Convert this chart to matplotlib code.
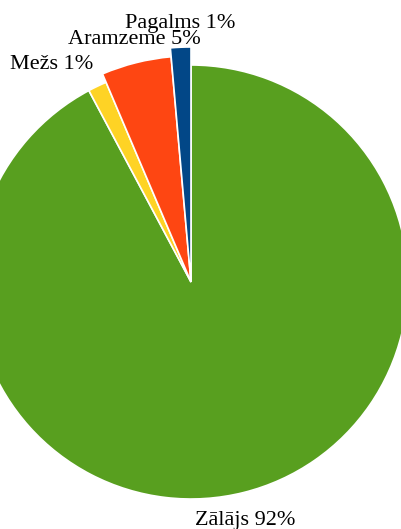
import matplotlib
matplotlib.use("Agg")
import matplotlib.pyplot as plt

categories = ["Zālājs", "Mežs", "Aramzeme", "Pagalms"]
values = [92.2, 1.4, 5.0, 1.4]
colors = ["#589f1f", "#fed325", "#fe4612", "#024787"]
radius_scale = [1.0, 1.0, 1.042, 1.083]

W, H = 402, 529
fig = plt.figure(figsize=(W / 100, H / 100), dpi=100)
ax = fig.add_axes([0, 0, 1, 1])

cx, cy, R = 191, 282, 217
wedges, _ = ax.pie(values, colors=colors, startangle=90, counterclock=False,
                   center=(cx, cy), radius=R, frame=True,
                   wedgeprops=dict(edgecolor="white", linewidth=1.2))
# y axis inverted: flip the pie so it keeps clockwise-from-top order on screen
for w, s in zip(wedges, radius_scale):
    t1, t2 = w.theta1, w.theta2
    w.set_theta1(-t2)
    w.set_theta2(-t1)
    w.set_radius(R * s)
ax.set_xlim(0, W)
ax.set_ylim(H, 0)
ax.set_aspect("equal")
ax.axis("off")

total = sum(values)
labels = [f"{c} {round(v / total * 100)}%" for c, v in zip(categories, values)]
label_pos = [(195, 525), (10, 69), (68, 44), (125, 28)]
for lab, (x, y) in zip(labels, label_pos):
    ax.text(x, y, lab, family="Liberation Serif", fontsize=16,
            ha="left", va="baseline", color="#000000")

fig.savefig("out.png", dpi=100)
